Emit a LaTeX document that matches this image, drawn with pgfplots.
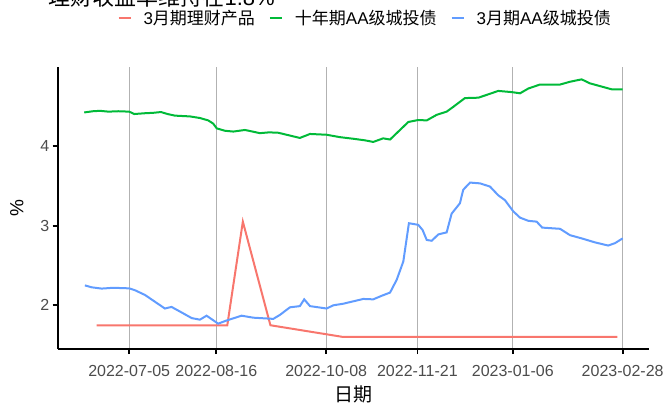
\documentclass[border=0pt]{standalone}
\usepackage{fontspec}
\setmainfont{Liberation Sans}
\newfontfamily\cjk{Noto Sans CJK SC}
\usepackage{pgfplots}
\pgfplotsset{compat=1.18}

\definecolor{cred}{HTML}{F8766D}
\definecolor{cgreen}{HTML}{00BA38}
\definecolor{cblue}{HTML}{619CFF}

% x = days since 2022-07-05
\pgfplotstableread{
d v
-15.7 1.75
47.3 1.75
54.8 3.05
68.1 1.75
102.7 1.605
235.4 1.605
}\wealth

\pgfplotstableread{
d v
-21.7 4.42
-17.5 4.435
-14.1 4.44
-10.0 4.43
-5.3 4.435
0 4.43
2.4 4.40
7.6 4.41
11.5 4.415
15.3 4.425
18.5 4.40
22 4.38
29.3 4.37
34.1 4.35
38.1 4.32
40.5 4.28
42.2 4.22
46.2 4.19
50.2 4.18
55.8 4.20
59.5 4.18
63 4.16
67.5 4.17
71.9 4.165
78.3 4.125
82.3 4.10
87.2 4.15
95.2 4.14
101.6 4.11
108 4.09
113.7 4.07
117.7 4.05
122.5 4.095
125.8 4.08
129.8 4.18
134.6 4.30
139.4 4.325
143.5 4.32
148.3 4.39
153.1 4.43
156.3 4.49
161.9 4.60
168.4 4.605
172.4 4.64
178 4.69
184.5 4.675
188.5 4.66
192.5 4.72
198.1 4.77
207.8 4.77
212.6 4.805
218.2 4.835
222.2 4.785
227.1 4.75
232.7 4.71
238 4.71
}\tenyear

\pgfplotstableread{
d v
-21.4 2.25
-18.1 2.226
-13.3 2.21
-7.7 2.22
0 2.213
2.7 2.19
7.6 2.13
12.4 2.045
17.2 1.96
20.4 1.98
25.3 1.91
30.1 1.84
34.1 1.82
37.3 1.87
42.9 1.77
47 1.81
54.2 1.87
59.8 1.845
69.5 1.83
72.7 1.88
77.5 1.975
82.3 1.99
84.4 2.075
87.2 1.99
95.2 1.96
98.4 2.00
103.2 2.02
112.9 2.08
117.7 2.075
121.8 2.12
125.8 2.16
129 2.32
132.2 2.55
134.9 3.03
139.4 3.01
141.5 2.945
143.5 2.82
145.9 2.81
149.1 2.89
153.1 2.915
155.5 3.15
159.5 3.28
161.1 3.45
164.4 3.54
169.2 3.53
174 3.49
178 3.38
181.2 3.32
185.2 3.18
188.5 3.10
192.5 3.06
196.5 3.05
199.2 2.975
207.8 2.96
212.6 2.88
218.2 2.84
224.6 2.79
231 2.75
234.3 2.78
238 2.84
}\threemonth

\begin{document}
\begin{tikzpicture}
\begin{axis}[
    scale only axis,
    width=591.3pt, height=282pt,
    xmin=-34.5, xmax=250.7,
    ymin=1.452, ymax=4.99,
    axis x line*=bottom, axis y line*=left,
    axis line style={-, black, line width=1.8pt},
    xtick={0,42,95,139,185,238},
    xticklabels={2022-07-05,2022-08-16,2022-10-08,2022-11-21,2023-01-06,2023-02-28},
    ytick={2,3,4},
    tick align=outside,
    major tick length=5pt,
    tick style={black, line width=1.8pt},
    xmajorgrids,
    grid style={gray!60, line width=1.3pt},
    ticklabel style={font=\fontsize{16}{18}\selectfont, text=black!70},
    xticklabel style={yshift=-8pt},
    /pgf/number format/assume math mode=true,
    xlabel={\cjk 日期},
    ylabel={\%},
    label style={font=\fontsize{19}{21}\selectfont},
    xlabel style={at={(axis description cs:0.5,-0.16)}, anchor=center},
    ylabel style={at={(axis description cs:-0.069,0.5)}, anchor=center},
    legend style={at={(0.52,1.174)}, anchor=center, draw=none, fill=none,
        legend columns=3, font=\fontsize{17}{19}\selectfont,
        /tikz/every even column/.append style={column sep=12pt}},
    legend image code/.code={\draw[#1] (0pt,0pt) -- (12pt,0pt);},
]
\addplot[cred, line width=2pt, no marks] table[x=d, y=v] {\wealth};
\addlegendentry{\hspace*{10pt}3{\cjk 月期理财产品}}
\addplot[cgreen, line width=2pt, no marks] table[x=d, y=v] {\tenyear};
\addlegendentry{\hspace*{10pt}{\cjk 十年期}AA{\cjk 级城投债}}
\addplot[cblue, line width=2pt, no marks] table[x=d, y=v] {\threemonth};
\addlegendentry{\hspace*{10pt}3{\cjk 月期}AA{\cjk 级城投债}}
\end{axis}
\node[anchor=base west, font=\fontsize{22}{24}\selectfont] at (-12.7pt,343pt) {{\cjk 理财收益率维持在}1.8\%};
\pgfresetboundingbox
\useasboundingbox (-57.7pt,-56pt) rectangle (609.3pt,349pt);
\end{tikzpicture}
\end{document}
